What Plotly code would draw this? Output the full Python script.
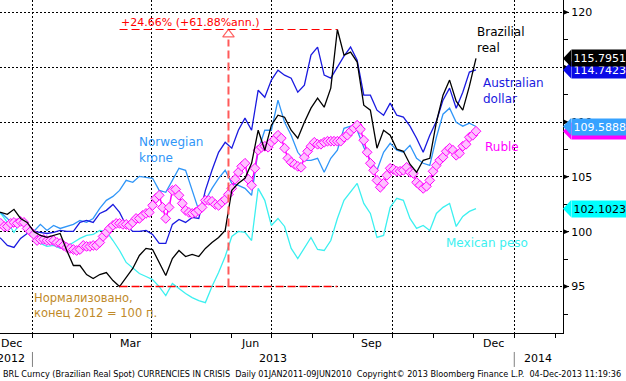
import plotly.graph_objects as go
import pandas as pd

# ---------------- data (normalised, end 2012 = 100) ----------------
dates = pd.date_range("2012-12-03", periods=74, freq="5D")

brl = [101.76, 101.76, 101.58, 102.04, 101.21, 100.85, 100.03, 99.66, 99.48, 99.66,
       99.84, 98.29, 96.92, 96.92, 96.10, 95.74, 96.10, 96.28, 95.55, 95.00,
       95.83, 96.65, 97.84, 98.48, 98.38, 97.20, 96.01, 97.56, 98.29, 97.74,
       97.93, 97.74, 98.48, 99.02, 99.48, 100.12, 103.77, 104.41, 104.87, 106.24,
       109.25, 107.42, 109.71, 110.62, 110.44, 109.25, 108.52, 109.98, 111.26, 112.17,
       111.35, 113.09, 118.43, 116.10, 116.37, 115.46, 111.53, 111.08, 107.61, 109.25,
       108.79, 107.52, 107.33, 106.15, 105.42, 106.51, 106.69, 109.98, 112.45, 113.82,
       111.90, 111.08, 113.27, 115.7951]

aud = [99.66, 99.39, 98.75, 98.57, 99.39, 99.84, 100.03, 99.94, 99.84, 99.94,
       100.12, 100.03, 100.03, 100.85, 101.03, 100.85, 101.67, 101.95, 102.49, 101.76,
       100.57, 100.03, 100.03, 100.12, 99.75, 98.93, 98.93, 100.67, 101.12, 100.85,
       101.31, 101.21, 103.77, 105.60, 107.24, 108.15, 107.61, 109.25, 110.35, 109.25,
       112.90, 112.26, 113.82, 114.73, 114.27, 114.00, 112.72, 113.36, 116.10, 116.83,
       114.27, 114.00, 115.00, 116.01, 116.83, 115.64, 112.45, 112.45, 111.08, 110.62,
       111.72, 110.62, 110.44, 109.62, 108.52, 107.24, 108.79, 110.07, 111.99, 113.09,
       111.26, 112.72, 114.55, 114.7423]

nok = [101.49, 101.76, 101.21, 100.48, 100.85, 100.30, 100.03, 100.67, 100.12, 100.57,
       100.30, 100.48, 100.67, 101.03, 100.85, 101.21, 102.13, 102.86, 103.22, 103.77,
       104.68, 104.50, 105.05, 104.96, 104.87, 103.77, 103.59, 104.68, 105.78, 105.60,
       103.77, 101.95, 102.86, 103.95, 104.87, 105.60, 104.41, 104.23, 103.95, 103.32,
       107.43, 109.25, 109.25, 111.99, 109.98, 108.79, 107.24, 106.51, 106.51, 106.69,
       105.42, 106.69, 107.43, 109.43, 109.62, 109.25, 107.70, 106.51, 105.60, 107.24,
       108.06, 107.43, 107.24, 107.88, 106.69, 106.24, 106.05, 108.61, 110.71, 111.26,
       109.98, 109.62, 109.89, 109.5888]

# Ruble read at a finer (2.5-day) step
rub_dates = pd.date_range("2012-12-03", periods=147, freq="60h")
rub = [100.85, 100.76, 100.76, 100.48, 100.48, 100.76, 100.85, 100.76, 100.94, 100.85,
       100.30, 100.03, 99.75, 99.20, 99.30, 99.30, 99.20, 99.20, 99.20, 99.02,
       98.93, 98.75, 98.57, 98.48, 98.38, 98.29, 98.38, 98.75, 98.66, 98.66,
       98.75, 98.75, 99.02, 99.57, 99.94, 100.30, 100.57, 100.76, 100.76, 100.67,
       100.67, 100.57, 100.85, 101.21, 101.21, 101.49, 101.67, 101.76, 102.40, 103.04,
       103.32, 102.22, 101.21, 102.22, 103.77, 103.86, 103.32, 102.58, 101.95, 101.76,
       101.67, 101.76, 101.95, 102.22, 102.86, 102.86, 102.77, 102.49, 102.40, 102.68,
       102.95, 103.41, 103.95, 104.78, 105.42, 105.96, 106.24, 104.78, 104.23, 105.78,
       107.43, 107.70, 107.79, 107.70, 108.15, 108.43, 108.79, 108.52, 107.61, 106.69,
       106.33, 106.15, 105.96, 105.87, 106.79, 107.33, 107.79, 108.15, 107.97, 107.97,
       108.15, 108.25, 108.25, 108.25, 108.25, 108.25, 108.61, 108.79, 109.16, 109.43,
       109.71, 109.34, 108.34, 107.24, 106.24, 105.60, 104.68, 104.05, 104.41, 105.14,
       105.78, 105.69, 105.51, 105.51, 105.60, 105.87, 105.42, 105.32, 104.50, 104.23,
       103.95, 104.14, 104.68, 105.51, 106.05, 106.51, 106.79, 107.33, 107.61, 107.43,
       106.97, 107.15, 107.79, 107.97, 108.61, 108.79, 109.16]

mxn = [101.49, 101.67, 100.85, 99.94, 100.85, 100.57, 100.03, 98.93, 98.66, 98.75,
       98.48, 98.66, 99.02, 99.39, 99.66, 99.75, 100.12, 100.03, 99.20, 98.29,
       97.20, 96.65, 96.19, 95.92, 95.64, 95.00, 94.18, 95.28, 94.82, 94.37,
       94.00, 93.73, 93.54, 95.00, 96.28, 97.74, 99.57, 100.03, 99.94, 99.20,
       103.95, 102.86, 100.57, 101.21, 100.48, 98.48, 97.56, 98.48, 99.48, 98.38,
       98.29, 99.20, 101.21, 102.86, 103.68, 104.41, 102.58, 101.67, 99.48, 99.66,
       102.22, 103.04, 102.86, 101.21, 100.30, 100.57, 100.12, 101.67, 102.22, 102.58,
       100.48, 101.40, 101.85, 102.1023]

y_ticks = [95, 100, 105, 110, 115, 120]
month_labels = ["Dec", "Mar", "Jun", "Sep", "Dec"]
month_label_dates = ["2012-12-16", "2013-03-16", "2013-06-15", "2013-09-15", "2013-12-16"]
year_labels = ["2012", "2013", "2014"]
year_label_dates = ["2012-12-16", "2013-07-02", "2014-01-19"]
year_breaks = ["2013-01-01", "2014-01-01"]

BRL_C = "#000000"
AUD_C = "#1a1ae0"
NOK_C = "#3096f8"
RUB_C = "#ff00ff"
MXN_C = "#3cf0f0"
RED = "#ff0000"
FONT = "DejaVu Sans"

fig = go.Figure()

fig.add_trace(go.Scatter(x=dates, y=mxn, mode="lines", line=dict(color=MXN_C, width=1.3)))
fig.add_trace(go.Scatter(x=dates, y=nok, mode="lines", line=dict(color=NOK_C, width=1.3)))
fig.add_trace(go.Scatter(x=dates, y=aud, mode="lines", line=dict(color=AUD_C, width=1.3)))
fig.add_trace(go.Scatter(x=rub_dates, y=rub, mode="lines+markers", line=dict(color=RUB_C, width=1.5),
                         marker=dict(symbol="diamond", size=7.5, color="#ffc0ff",
                                     line=dict(color=RUB_C, width=1))))
fig.add_trace(go.Scatter(x=dates, y=brl, mode="lines", line=dict(color=BRL_C, width=1.3)))

# ---------- min -> max annotation on the Brazilian real ----------
i_min = min(range(len(brl)), key=lambda i: brl[i])
i_max = max(range(len(brl)), key=lambda i: brl[i])
d_min, d_max = dates[i_min], dates[i_max]
v_min, v_max = brl[i_min], brl[i_max]
d_mid = d_min + (d_max - d_min) / 2

shapes = []
shapes.append(dict(type="line", xref="x", yref="y", x0=d_min, x1=d_max, y0=v_max, y1=v_max,
                   line=dict(color=RED, width=1.2, dash="8px,4px"), layer="above"))
shapes.append(dict(type="line", xref="x", yref="y", x0=d_min, x1=d_max, y0=v_min, y1=v_min,
                   line=dict(color=RED, width=1.5, dash="8px,4px"), layer="above"))
shapes.append(dict(type="line", xref="x", yref="y", x0=d_mid, x1=d_mid, y0=v_min, y1=v_max - 0.9,
                   line=dict(color="#ff5a5a", width=2, dash="8px,4px"), layer="above"))
fig.add_trace(go.Scatter(x=[d_mid], y=[v_max - 0.45], mode="markers", cliponaxis=False,
                         marker=dict(symbol="triangle-up-open", size=10, color="#ff6060",
                                     line=dict(width=1.2))))

annotations = []
annotations.append(dict(x=d_min, y=v_max, xref="x", yref="y", xanchor="left", yanchor="bottom",
                        text="+24.66% (+61.88%ann.)", showarrow=False, borderpad=0,
                        font=dict(family=FONT, size=11, color=RED)))

# ---------- y-axis triangle tick markers ----------
for v in y_ticks:
    shapes.append(dict(type="path", xref="paper", yref="y",
                       path=f"M 1,{v + 0.25} L 1.0107,{v} L 1,{v - 0.25} Z",
                       fillcolor="black", line=dict(width=0)))

# ---------- last-value tags ----------
def add_tag(val, fill, txt):
    h = 0.78
    shapes.append(dict(type="path", xref="paper", yref="y",
                       path=f"M 1,{val} L 1.0145,{val + h} L 1.0145,{val - h} Z",
                       fillcolor=fill, line=dict(width=0)))
    annotations.append(dict(x=1, xref="paper", y=val, yref="y", xanchor="left", yanchor="middle",
                            xshift=8, text=f"{val:.4f}", showarrow=False, bgcolor=fill,
                            borderpad=1.5, width=62, align="left",
                            font=dict(family=FONT, size=11, color=txt)))

add_tag(rub[-1], RUB_C, "white")
add_tag(nok[-1], "#36a2ff", "white")
add_tag(aud[-1], "#0a0ae6", "white")
add_tag(brl[-1], "#000000", "white")
add_tag(mxn[-1], "#00ffff", "black")

# ---------- series labels ----------
lab = dict(xref="x", yref="y", xanchor="left", yanchor="middle", align="left", showarrow=False)
annotations.append(dict(lab, x="2013-12-02", y=117.47, text="Brazilial<br>real",
                        font=dict(family=FONT, size=12, color=BRL_C)))
annotations.append(dict(lab, x="2013-12-07", y=112.81, text="Australian<br>dollar",
                        font=dict(family=FONT, size=12, color=AUD_C)))
annotations.append(dict(lab, x="2013-12-08", y=107.7, text="Ruble",
                        font=dict(family=FONT, size=12, color=RUB_C)))
annotations.append(dict(lab, x="2013-11-09", y=98.96, text="Mexican peso",
                        font=dict(family=FONT, size=12, color=MXN_C)))
annotations.append(dict(lab, x="2013-03-21", y=107.42, text="Norwegian<br>krone",
                        font=dict(family=FONT, size=12, color=NOK_C)))
annotations.append(dict(lab, x="2013-01-01", y=93.27, text="Нормализовано,<br>конец 2012 = 100 п.",
                        font=dict(family=FONT, size=11.5, color="#c08a2a")))

# ---------- x-axis labels ----------
for t, d in zip(month_labels, month_label_dates):
    annotations.append(dict(x=d, xref="x", y=0, yref="paper", yanchor="middle", yshift=-10,
                            text=t, showarrow=False, font=dict(family=FONT, size=11)))
for t, d in zip(year_labels, year_label_dates):
    annotations.append(dict(x=d, xref="x", y=0, yref="paper", yanchor="middle", yshift=-25,
                            text=t, showarrow=False, font=dict(family=FONT, size=11)))
for d in year_breaks:
    shapes.append(dict(type="line", xref="x", yref="paper", x0=d, x1=d, y0=-0.057, y1=-0.102,
                       line=dict(color="#808080", width=1)))

annotations.append(dict(x=0, xref="paper", y=0, yref="paper", xanchor="left", yanchor="middle",
                        yshift=-41, xshift=1, showarrow=False,
                        text="BRL Curncy (Brazilian Real Spot) CURRENCIES IN CRISIS  Daily 01JAN2011-09JUN2010  "
                             "Copyright\u00a9 2013 Bloomberg Finance L.P.  04-Dec-2013 11:19:36",
                        font=dict(family=FONT, size=8.15, color="black")))

fig.update_layout(
    width=626, height=381, margin=dict(l=0, r=63, t=0, b=48, pad=0),
    paper_bgcolor="white", plot_bgcolor="white", showlegend=False,
    font=dict(family=FONT, size=11, color="black"),
    shapes=shapes, annotations=annotations,
)
fig.update_xaxes(range=["2012-12-07 10:00", "2014-02-06 22:00"], type="date",
                 showgrid=True, gridcolor="black", griddash="2px,2px", gridwidth=1,
                 tick0="2013-01-01", dtick="M3", ticks="outside", ticklen=4, tickcolor="black",
                 showticklabels=False, showline=True, linecolor="black", linewidth=1, zeroline=False,
                 minor=dict(dtick="M1", tick0="2013-01-01", ticks="outside", ticklen=4,
                            tickcolor="black", showgrid=False))
fig.update_yaxes(side="right", range=[90.77, 121.12], tick0=95, dtick=5,
                 showgrid=True, gridcolor="black", griddash="2px,2px", gridwidth=1,
                 ticks="outside", ticklen=5, tickcolor="black", showline=True, linecolor="black",
                 linewidth=1, zeroline=False, tickfont=dict(family=FONT, size=11),
                 minor=dict(dtick=2.5, ticks="outside", ticklen=4, tickcolor="black", showgrid=False))

fig.write_html("out.html", config={"displayModeBar": False},
               post_script="document.body.style.margin='0';document.body.style.overflow='hidden';")
